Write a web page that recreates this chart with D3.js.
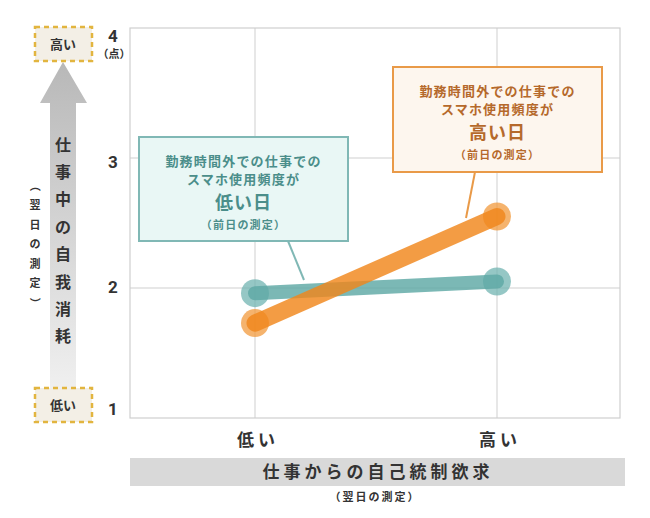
<!DOCTYPE html>
<html>
<head>
<meta charset="utf-8">
<script src="https://cdn.jsdelivr.net/npm/d3@7"></script>
<style>
  body { margin: 0; background: #fff; }
  svg { display: block; font-family: "Noto Sans CJK JP", "Noto Sans", sans-serif; }
</style>
</head>
<body>
<div id="chart"></div>
<script>
// data
const xCategories = ['低い', '高い'];
const yTicks = [1, 2, 3, 4];
const lowUseValues = [1.96, 2.05];   // 使用頻度が低い日
const highUseValues = [1.73, 2.55];  // 使用頻度が高い日
const seriesNames = ['低い日', '高い日'];

const W = 650, H = 518;
const plot = {left: 130, right: 620, top: 28, bottom: 418};

const svg = d3.select('#chart').append('svg')
    .attr('width', W).attr('height', H);

const xScale = d3.scalePoint().domain(xCategories).range([plot.left, plot.right]).padding(0.5);
// the points sit at 256 and 500 in the reference, so nudge the range
xScale.range([plot.left + 4, plot.right - 2]);
const yScale = d3.scaleLinear().domain([1, 4]).range([plot.bottom, plot.top]);

// grid
const grid = svg.append('g');
grid.selectAll('.hgrid').data(yTicks.slice(1, 3)).enter().append('line')
    .attr('x1', plot.left).attr('x2', plot.right)
    .attr('y1', d => yScale(d)).attr('y2', d => yScale(d))
    .attr('stroke', '#cfcfcf').attr('stroke-width', 1);
grid.selectAll('.vgrid').data(xCategories).enter().append('line')
    .attr('x1', d => xScale(d)).attr('x2', d => xScale(d))
    .attr('y1', plot.top).attr('y2', plot.bottom)
    .attr('stroke', '#cfcfcf').attr('stroke-width', 1);
svg.append('rect')
    .attr('x', plot.left).attr('y', plot.top)
    .attr('width', plot.right - plot.left).attr('height', plot.bottom - plot.top)
    .attr('fill', 'none').attr('stroke', '#cfcfcf').attr('stroke-width', 1.2);

// y tick labels
const yLabelShift = {1: -9, 2: -1, 3: 4, 4: 8};
svg.selectAll('.ytick').data(yTicks).enter().append('text')
    .attr('x', 113)
    .attr('y', d => yScale(d) + yLabelShift[d])
    .attr('dy', '0.35em')
    .attr('text-anchor', 'middle')
    .attr('font-size', 17).attr('font-weight', 700)
    .attr('font-family', 'Roboto, "Noto Sans", sans-serif')
    .attr('fill', '#333')
    .text(d => d);
svg.append('text').attr('x', 114).attr('y', 58)
    .attr('text-anchor', 'middle').attr('font-size', 11).attr('font-weight', 700)
    .attr('fill', '#333').text('（点）');

// series
const series = [
    {name: seriesNames[0], values: lowUseValues, line: '#5ea8a5', dot: '#72b4b1', width: 14},
    {name: seriesNames[1], values: highUseValues, line: '#f0861b', dot: '#f29a3c', width: 17}
];
const line = d3.line().x((d, i) => xScale(xCategories[i])).y(d => yScale(d));
series.forEach(s => {
    const g = svg.append('g');
    g.selectAll('circle').data(s.values).enter().append('circle')
        .attr('cx', (d, i) => xScale(xCategories[i]))
        .attr('cy', d => yScale(d))
        .attr('r', 14)
        .attr('fill', s.dot).attr('opacity', 0.75);
    g.append('path').datum(s.values)
        .attr('d', line)
        .attr('fill', 'none').attr('stroke', s.line)
        .attr('stroke-width', s.width).attr('stroke-linecap', 'round')
        .attr('opacity', 0.82);
});

// callout boxes
function callout(cfg) {
    const g = svg.append('g');
    g.append('line')
        .attr('x1', cfg.lx1).attr('y1', cfg.ly1).attr('x2', cfg.lx2).attr('y2', cfg.ly2)
        .attr('stroke', cfg.stroke).attr('stroke-width', 2);
    g.append('rect')
        .attr('x', cfg.x).attr('y', cfg.y).attr('width', cfg.w).attr('height', cfg.h)
        .attr('fill', cfg.fill).attr('stroke', cfg.stroke).attr('stroke-width', 2);
    const cx = cfg.x + cfg.w / 2;
    const lines = [
        {t: '勤務時間外での仕事での', dy: 24, size: 13},
        {t: 'スマホ使用頻度が', dy: 42, size: 13},
        {t: cfg.big, dy: 66, size: 18},
        {t: '（前日の測定）', dy: 88, size: 11}
    ];
    g.selectAll('text').data(lines).enter().append('text')
        .attr('x', cx).attr('y', d => cfg.y + d.dy)
        .attr('dy', '0.35em')
        .attr('text-anchor', 'middle')
        .attr('font-size', d => d.size).attr('font-weight', 700)
        .attr('letter-spacing', d => d.size === 18 ? 1 : 1.2)
        .attr('fill', cfg.text)
        .text(d => d.t);
}
callout({x: 139, y: 137, w: 209, h: 104, fill: '#e9f7f5', stroke: '#80b8b5', text: '#4b8e8a',
    big: '低い日', lx1: 288, ly1: 241, lx2: 304, ly2: 280});
callout({x: 393, y: 67, w: 209, h: 105, fill: '#fdf6ee', stroke: '#e99a48', text: '#b5692b',
    big: '高い日', lx1: 475, ly1: 172, lx2: 466, ly2: 218});

// x axis labels
svg.selectAll('.xlab').data(xCategories).enter().append('text')
    .attr('x', d => xScale(d) + 3).attr('y', 440)
    .attr('dy', '0.35em').attr('text-anchor', 'middle')
    .attr('font-size', 17).attr('font-weight', 700).attr('letter-spacing', 4)
    .attr('fill', '#333').text(d => d);

// x axis title band
svg.append('rect').attr('x', 130).attr('y', 458).attr('width', 495).attr('height', 28)
    .attr('fill', '#d9d9d9');
svg.append('text').attr('x', 378).attr('y', 472).attr('dy', '0.35em')
    .attr('text-anchor', 'middle').attr('font-size', 17).attr('font-weight', 700)
    .attr('letter-spacing', 4).attr('fill', '#333').text('仕事からの自己統制欲求');
svg.append('text').attr('x', 375).attr('y', 497).attr('dy', '0.35em')
    .attr('text-anchor', 'middle').attr('font-size', 11).attr('font-weight', 700)
    .attr('letter-spacing', 2).attr('fill', '#333').text('（翌日の測定）');

// left arrow
const defs = svg.append('defs');
const grad = defs.append('linearGradient').attr('id', 'arrowGrad')
    .attr('x1', 0).attr('y1', 0).attr('x2', 0).attr('y2', 1);
grad.append('stop').attr('offset', '0%').attr('stop-color', '#b8b8b8');
grad.append('stop').attr('offset', '100%').attr('stop-color', '#f0f0f0');
svg.append('path')
    .attr('d', 'M63,62 L87,103 L76,103 L76,390 L50,390 L50,103 L40,103 Z')
    .attr('fill', 'url(#arrowGrad)');

const vChars = '仕事中の自我消耗'.split('');
svg.selectAll('.vchar').data(vChars).enter().append('text')
    .attr('x', 63).attr('y', (d, i) => 145 + i * 27.4)
    .attr('dy', '0.35em').attr('text-anchor', 'middle')
    .attr('font-size', 16).attr('font-weight', 700).attr('fill', '#333')
    .text(d => d);

const subChars = '（翌日の測定）'.split('');
svg.selectAll('.schar').data(subChars).enter().append('text')
    .attr('transform', (d, i) => {
        const y = 186 + i * 19.5;
        return (d === '（' || d === '）') ? `translate(35,${y}) rotate(90)` : `translate(35,${y})`;
    })
    .attr('dy', '0.35em').attr('text-anchor', 'middle')
    .attr('font-size', 11).attr('font-weight', 700).attr('fill', '#333')
    .text(d => d);

// high / low boxes
function tagBox(y, label) {
    svg.append('rect').attr('x', 35).attr('y', y).attr('width', 57).attr('height', 34)
        .attr('fill', '#f3efe6').attr('stroke', '#e2b53f').attr('stroke-width', 2.5)
        .attr('stroke-dasharray', '5,4');
    svg.append('text').attr('x', 63).attr('y', y + 17).attr('dy', '0.35em')
        .attr('text-anchor', 'middle').attr('font-size', 13).attr('font-weight', 700)
        .attr('fill', '#333').text(label);
}
tagBox(27, '高い');
tagBox(388, '低い');
</script>
</body>
</html>
